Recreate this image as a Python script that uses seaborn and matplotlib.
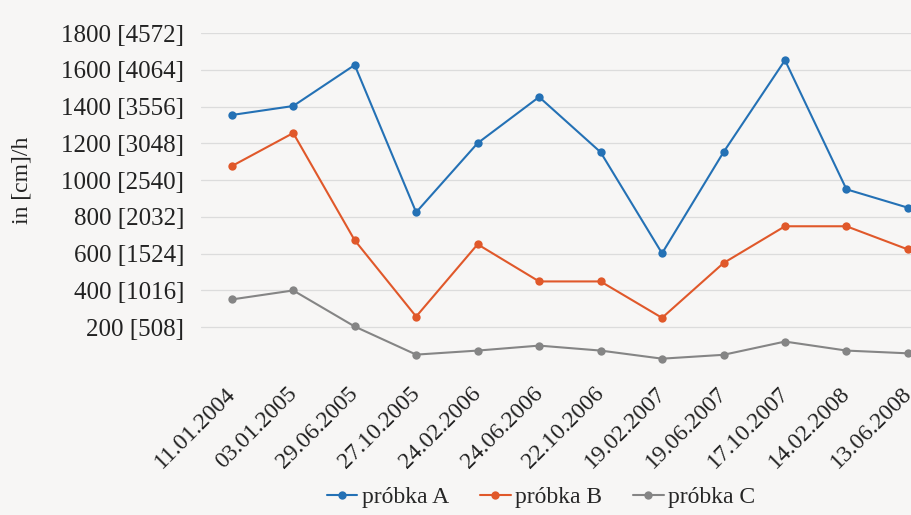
import matplotlib
matplotlib.use("Agg")
import matplotlib.pyplot as plt
import matplotlib.transforms as mtransforms
import seaborn as sns
import pandas as pd
import numpy as np

dates = ["11.01.2004", "03.01.2005", "29.06.2005", "27.10.2005", "24.02.2006",
         "24.06.2006", "22.10.2006", "19.02.2007", "19.06.2007", "17.10.2007",
         "14.02.2008", "13.06.2008"]
probka_a = [1354, 1403, 1626, 825, 1201, 1452, 1152, 602, 1152, 1652, 950, 850]
probka_b = [1076, 1256, 673, 258, 651, 449, 449, 251, 549, 749, 749, 623]
probka_c = [351, 400, 204, 51, 73, 100, 73, 29, 50, 122, 73, 58]
series_names = ["próbka A", "próbka B", "próbka C"]
y_ticks = [200, 400, 600, 800, 1000, 1200, 1400, 1600, 1800]
y_labels = ["200 [508]", "400 [1016]", "600 [1524]", "800 [2032]", "1000 [2540]",
            "1200 [3048]", "1400 [3556]", "1600 [4064]", "1800 [4572]"]
colors = ["#2471b5", "#e0582a", "#858585"]

rows = []
for name, vals in zip(series_names, [probka_a, probka_b, probka_c]):
    for i, v in enumerate(vals):
        rows.append({"idx": i, "value": v, "series": name})
df = pd.DataFrame(rows)

sns.set_theme(style="white")
plt.rcParams["font.family"] = ["Liberation Serif", "DejaVu Serif"]

bg = "#f7f6f5"
fig = plt.figure(figsize=(9.11, 5.15), dpi=100, facecolor=bg)
ax = fig.add_axes([201/911, 151/515, 710/911, 331/515])
ax.set_facecolor(bg)

for name, col in zip(series_names, colors):
    sub = df[df["series"] == name]
    sns.lineplot(data=sub, x="idx", y="value", ax=ax, color=col, marker="o",
                 markersize=6, markeredgewidth=0, linewidth=1.5, label=name)

ax.set_xlim(-0.5, 11.05)
ax.set_ylim(0, 1800)
ax.set_yticks(y_ticks)
ax.set_yticklabels(y_labels, fontsize=18, color="#222222")
ax.set_xticks(range(len(dates)))
ax.set_xticklabels(dates, rotation=45, ha="right", rotation_mode="anchor",
                   fontsize=17, color="#222222")
ax.tick_params(axis="x", length=0, pad=6)
ax.tick_params(axis="y", length=0, pad=12)
offset = mtransforms.ScaledTranslation(-7/100, -11/100, fig.dpi_scale_trans)
for lab in ax.get_xticklabels():
    lab.set_transform(lab.get_transform() + offset)
ax.yaxis.grid(True, color="#dcdcdc", linewidth=0.9)
ax.set_axisbelow(True)
for s in ax.spines.values():
    s.set_visible(False)
ax.set_xlabel("")
ax.set_ylabel("in [cm]/h", fontsize=17, color="#222222")
ax.yaxis.set_label_coords(-0.237, 0.556)

ax.legend(loc="center", bbox_to_anchor=(0.479, -0.402), ncol=3,
          frameon=False, fontsize=17, handlelength=1.3, handletextpad=0.2,
          columnspacing=1.3, borderaxespad=0)

fig.savefig("out.png", dpi=100, facecolor=bg)
